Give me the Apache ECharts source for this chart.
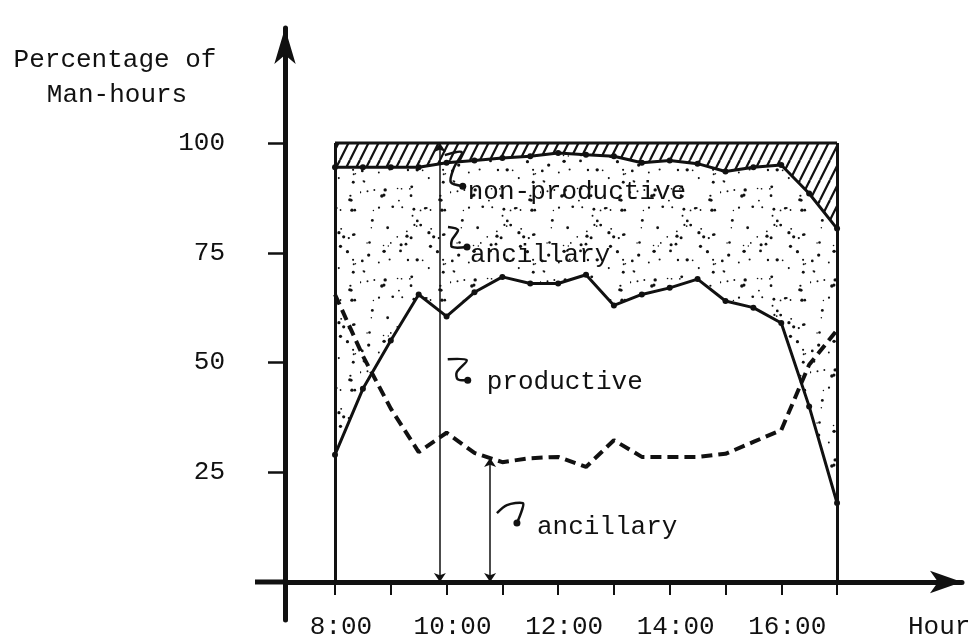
<!DOCTYPE html>
<html>
<head>
<meta charset="utf-8">
<title>Percentage of Man-hours</title>
<script src="https://cdn.jsdelivr.net/npm/echarts@6.0.0/dist/echarts.min.js"></script>
<style>
  html, body { margin: 0; padding: 0; background: #fff; }
  #main { width: 979px; height: 643px; }
</style>
</head>
<body>
<div id="main"></div>
<script>
// readings every half hour, 8:00 - 17:00 (percent of man-hours)
var hours = [8, 8.5, 9, 9.5, 10, 10.5, 11, 11.5, 12, 12.5, 13, 13.5, 14, 14.5, 15, 15.5, 16, 16.5, 17];
var productive = [29, 44, 55, 65.5, 60.5, 66, 69.5, 68, 68, 70, 63, 65.5, 67, 69, 64, 62.5, 59, 40, 18];
// productive + ancillary (top of the stippled band)
var productivePlusAncillary = [94.5, 94.5, 94.5, 94.5, 95.5, 96, 96.6, 97, 97.7, 97.3, 97, 95.5, 96, 95.3, 93.5, 94.5, 95, 88.5, 80.5];
// ancillary on its own (dashed line)
var ancillary = [65.5, 51.5, 39.5, 29.6, 34, 29.4, 27.3, 28.2, 28.5, 26.2, 32.3, 28.5, 28.5, 28.5, 29.2, 31.9, 34.6, 49.5, 57.4];
var total = hours.map(function () { return 100; });

var xLabelHours = [8, 10, 12, 14, 16];
var xLabels = ['8:00', '10:00', '12:00', '14:00', '16:00'];
var yTicks = [25, 50, 75, 100];

var FONT = '"Liberation Mono", "DejaVu Sans Mono", monospace';
var INK = '#111';

function zip(xs, ys) {
  return xs.map(function (x, i) { return [x, ys[i]]; });
}
function interp(xs, ys, x) {
  for (var i = 0; i < xs.length - 1; i++) {
    if (x >= xs[i] && x <= xs[i + 1]) {
      var t = (x - xs[i]) / (xs[i + 1] - xs[i]);
      return ys[i] + t * (ys[i + 1] - ys[i]);
    }
  }
  return ys[ys.length - 1];
}

// hatching for the non-productive band
function makeHatch() {
  var c = document.createElement('canvas');
  c.width = 10; c.height = 20;
  var g = c.getContext('2d');
  g.fillStyle = '#fff'; g.fillRect(0, 0, 10, 20);
  g.strokeStyle = INK; g.lineWidth = 2.2;
  [-10, 0, 10].forEach(function (o) {
    g.beginPath(); g.moveTo(o, 20); g.lineTo(o + 10, 0); g.stroke();
  });
  return c;
}
// stipple for the ancillary band (fixed seed so it is the same every time)
function makeStipple() {
  var c = document.createElement('canvas');
  c.width = 90; c.height = 90;
  var g = c.getContext('2d');
  g.fillStyle = '#fff'; g.fillRect(0, 0, 90, 90);
  g.fillStyle = INK;
  var s = 12345;
  function next() { s = (s * 16807) % 2147483647; return s / 2147483647; }
  for (var i = 0; i < 70; i++) {
    var x = next() * 90, y = next() * 90, r = 0.7 + next() * 1.0;
    g.beginPath(); g.arc(x, y, r, 0, Math.PI * 2); g.fill();
  }
  return c;
}

var firstHour = hours[0];
var lastHour = hours[hours.length - 1];
var markA = 9.88;   // double arrow across the whole day split
var markB = 10.78;  // arrow up to the ancillary line

var myChart = echarts.init(document.getElementById('main'));

var option = {
  animation: false,
  backgroundColor: '#fff',
  grid: {
    left: 285, right: 17, top: 28, bottom: 23,
    containLabel: false,
    outerBoundsMode: 'none'
  },
  xAxis: {
    type: 'value',
    min: 7.1036,
    max: 19.24,
    z: 10,
    splitLine: { show: false },
    axisLine: {
      onZero: true,
      symbol: ['none', 'arrow'],
      symbolSize: [17, 32],
      lineStyle: { color: INK, width: 5 }
    },
    axisTick: {
      customValues: hours.filter(function (h) { return h % 1 === 0; }),
      length: 13,
      lineStyle: { color: INK, width: 2 }
    },
    // the hour labels are drawn below as graphic text
    axisLabel: { show: false }
  },
  yAxis: {
    type: 'value',
    min: -8.66,
    max: 126.2,
    z: 10,
    splitLine: { show: false },
    axisLine: {
      onZero: false,
      symbol: ['none', 'arrow'],
      symbolSize: [16, 36],
      lineStyle: { color: INK, width: 5 }
    },
    axisTick: {
      customValues: yTicks,
      length: 17,
      lineStyle: { color: INK, width: 2.5 }
    },
    axisLabel: {
      customValues: yTicks,
      margin: 60,
      color: INK,
      fontSize: 26,
      fontFamily: FONT
    }
  },
  series: [
    {
      // hatched: everything up to 100 %, covered below by the other bands
      name: 'non-productive',
      type: 'line',
      data: zip(hours, total),
      symbol: 'none',
      lineStyle: { color: INK, width: 3 },
      areaStyle: { color: { image: makeHatch(), repeat: 'repeat' }, opacity: 1 },
      z: 1
    },
    {
      name: 'productive + ancillary',
      type: 'line',
      data: zip(hours, productivePlusAncillary),
      symbol: 'circle',
      symbolSize: 6,
      itemStyle: { color: INK },
      lineStyle: { color: INK, width: 3 },
      areaStyle: { color: { image: makeStipple(), repeat: 'repeat' }, opacity: 1 },
      z: 2
    },
    {
      name: 'productive',
      type: 'line',
      data: zip(hours, productive),
      symbol: 'circle',
      symbolSize: 6,
      itemStyle: { color: INK },
      lineStyle: { color: INK, width: 3 },
      areaStyle: { color: '#fff', opacity: 1 },
      z: 3
    },
    {
      name: 'ancillary',
      type: 'line',
      data: zip(hours, ancillary),
      symbol: 'none',
      lineStyle: { color: INK, width: 4, type: [11, 6] },
      z: 6,
      markLine: {
        silent: true,
        symbol: ['none', 'none'],
        label: { show: false },
        lineStyle: { color: INK, width: 3, type: 'solid' },
        data: [
          [{ coord: [firstHour, 0] }, { coord: [firstHour, 100] }],
          [{ coord: [lastHour, 0] }, { coord: [lastHour, 100] }]
        ]
      }
    },
    {
      name: 'arrows',
      type: 'line',
      data: [],
      z: 6,
      markLine: {
        silent: true,
        symbol: ['arrow', 'arrow'],
        symbolSize: 9,
        label: { show: false },
        lineStyle: { color: INK, width: 1.5, type: 'solid' },
        data: [
          [{ coord: [markA, 0] }, { coord: [markA, 100] }],
          [{ coord: [markB, 0] }, { coord: [markB, interp(hours, ancillary, markB)] }]
        ]
      }
    }
  ]
};

myChart.setOption(option);

// annotation labels with their little hand-drawn hooks
var notes = [
  { text: 'non-productive', at: [10.38, 88.8], hook: [[-23, -37], [-6, -40], [-14, -24], [-17, -10], [-5, -6]] },
  { text: 'ancillary', at: [10.42, 74.5], hook: [[-22, -28], [-12, -25], [-18, -15], [-18, -8], [-3, -8]] },
  { text: 'productive', at: [10.72, 45.5], hook: [[-39, -23], [-20, -22], [-30, -10], [-29, -3], [-19, -2]] },
  { text: 'ancillary', at: [11.62, 12.5], hook: [[-40, -14], [-30, -22], [-14, -24], [-15, -17], [-20, -4]] }
];

var graphics = [];
notes.forEach(function (n) {
  var p = myChart.convertToPixel({ gridIndex: 0 }, n.at);
  graphics.push({
    type: 'text', z: 20,
    style: { text: n.text, x: p[0], y: p[1], font: '26px ' + FONT, fill: INK, textVerticalAlign: 'middle' }
  });
  var pts = n.hook.map(function (d) { return [p[0] + d[0], p[1] + d[1]]; });
  graphics.push({
    type: 'polyline', z: 20,
    shape: { points: pts, smooth: 0.3 },
    style: { stroke: INK, lineWidth: 2.5, fill: null }
  });
  var end = pts[pts.length - 1];
  graphics.push({
    type: 'circle', z: 20,
    shape: { cx: end[0], cy: end[1], r: 3.5 },
    style: { fill: INK }
  });
});

// hour labels under the axis, placed at the tick positions
xLabelHours.forEach(function (h, i) {
  var p = myChart.convertToPixel({ gridIndex: 0 }, [h, 0]);
  graphics.push({
    type: 'text', z: 20,
    style: { text: xLabels[i], x: p[0] + 6, y: p[1] + 45, font: '26px ' + FONT, fill: INK, textAlign: 'center', textVerticalAlign: 'middle' }
  });
});

// x axis runs a little past the y axis on the left
var origin = myChart.convertToPixel({ gridIndex: 0 }, [7.1036, 0]);
graphics.push({
  type: 'line', z: 20,
  shape: { x1: origin[0] - 30, y1: origin[1], x2: origin[0], y2: origin[1] },
  style: { stroke: INK, lineWidth: 5 }
});

graphics.push(
  { type: 'text', style: { text: 'Percentage of', x: 115, y: 60, font: '26px ' + FONT, fill: INK, textAlign: 'center', textVerticalAlign: 'middle' } },
  { type: 'text', style: { text: 'Man-hours', x: 117, y: 95, font: '26px ' + FONT, fill: INK, textAlign: 'center', textVerticalAlign: 'middle' } },
  { type: 'text', style: { text: 'Hour', x: 908, y: origin[1] + 45, font: '26px ' + FONT, fill: INK, textVerticalAlign: 'middle' } }
);

myChart.setOption({ graphic: graphics });

window.addEventListener('resize', function () { myChart.resize(); });
</script>
</body>
</html>
